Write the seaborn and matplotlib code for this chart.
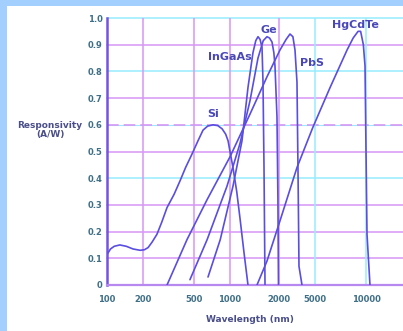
import numpy as np
import pandas as pd
import matplotlib
matplotlib.use("Agg")
import matplotlib.pyplot as plt
from matplotlib.patches import Rectangle
import seaborn as sns

# ---- data (wavelength in nm, responsivity in A/W) ----
si_wl = [102, 107, 115, 128, 145, 165, 189, 205, 219, 235, 257, 280, 308, 350, 389, 430, 482,
         540, 595, 650, 721, 790, 859, 920, 964, 1000, 1043, 1100, 1152, 1220, 1290]
si_r = [0.12, 0.135, 0.145, 0.15, 0.145, 0.135, 0.13, 0.132, 0.14, 0.16, 0.19, 0.235, 0.29, 0.34, 0.39, 0.44, 0.49,
        0.54, 0.58, 0.595, 0.60, 0.597, 0.585, 0.565, 0.54, 0.50, 0.44, 0.35, 0.25, 0.12, 0.0]

ingaas_wl = [655, 829, 1043, 1185, 1290, 1384, 1440, 1486, 1530, 1573, 1595, 1618, 1641]
ingaas_r = [0.03, 0.17, 0.37, 0.54, 0.74, 0.87, 0.915, 0.93, 0.92, 0.89, 0.76, 0.44, 0.0]

ge_wl = [465, 644, 944, 1152, 1327, 1486, 1600, 1688, 1750, 1812, 1860, 1890, 1944, 1970, 1985]
ge_r = [0.02, 0.17, 0.37, 0.53, 0.69, 0.85, 0.915, 0.93, 0.925, 0.91, 0.87, 0.82, 0.63, 0.32, 0.0]

pbs_wl = [308, 441, 644, 1000, 1327, 1688, 2050, 2400, 2647, 2850, 3006, 3162, 3243, 3327, 3593]
pbs_r = [0.0, 0.17, 0.32, 0.48, 0.64, 0.78, 0.88, 0.92, 0.94, 0.93, 0.88, 0.76, 0.44, 0.07, 0.0]

hgcdte_wl = [1465, 1688, 2050, 3162, 4731, 6142, 7730, 8400, 8982, 9300, 9650, 9870, 10140, 10560]
hgcdte_r = [0.0, 0.09, 0.24, 0.44, 0.59, 0.74, 0.88, 0.925, 0.95, 0.95, 0.90, 0.82, 0.19, 0.0]

curve_names = ["Si", "InGaAs", "Ge", "PbS", "HgCdTe"]
x_ticks = [100, 200, 500, 1000, 2000, 5000, 10000]
x_ticklabels = ["100", "200", "500", "1000", "2000", "5000", "10000"]
y_ticks = [0, 0.1, 0.2, 0.3, 0.4, 0.5, 0.6, 0.7, 0.8, 0.9, 1.0]
y_ticklabels = ["0", "0.1", "0.2", "0.3", "0.4", "0.5", "0.6", "0.7", "0.8", "0.9", "1.0"]

# ---- the chart's own (uneven) logarithmic wavelength axis ----
_logs = np.array([1.0, 2.0, 2.301, 2.699, 3.0, 3.301, 3.699, 4.0, 5.0])
_pos = np.array([-15.0, 107.0, 143.0, 194.0, 230.0, 279.0, 315.0, 366.0, 535.0])


def fwd(x):
    x = np.clip(np.asarray(x, dtype=float), 1e-3, None)
    return np.interp(np.log10(x), _logs, _pos)


def inv(p):
    return 10 ** np.interp(np.asarray(p, dtype=float), _pos, _logs)


sns.set_style("white")
plt.rcParams["font.family"] = ["DejaVu Sans"]

W, H = 403, 331
fig = plt.figure(figsize=(W / 100, H / 100), dpi=100, facecolor="#a2cffd")
fig.patches.append(Rectangle((7 / W, 0), 1, 325 / H, transform=fig.transFigure,
                             facecolor="white", edgecolor="none", zorder=-10))
ax = fig.add_axes([107 / W, 46 / H, 296 / W, 267 / H])
ax.set_zorder(1)
ax.set_facecolor("white")
ax.set_xscale("function", functions=(fwd, inv))
ax.set_xlim(100, 16560)
ax.set_ylim(0, 1.0)

# grid lines (alternating violet / cyan as in the reference)
violet = "#d796f4"
cyan = "#97ecff"
hcols = {0.1: violet, 0.2: violet, 0.3: violet, 0.4: cyan, 0.5: violet,
         0.7: violet, 0.8: cyan, 0.9: violet, 1.0: cyan}
for yv, c in hcols.items():
    ax.axhline(yv, color=c, lw=1.1, zorder=1, clip_on=False)
ax.axhline(0.6, color=cyan, lw=0.8, zorder=1)
ax.axhline(0.6, color=violet, lw=1.2, ls=(0, (7, 3)), zorder=1)
vcols = {200: violet, 500: violet, 1000: violet, 2000: violet, 5000: cyan, 10000: cyan}
for xv, c in vcols.items():
    ax.axvline(xv, color=c, lw=1.1, zorder=1)

# curves
curve_color = "#5a4ee0"
series = [(si_wl, si_r), (ingaas_wl, ingaas_r), (ge_wl, ge_r), (pbs_wl, pbs_r), (hgcdte_wl, hgcdte_r)]
for name, (wl, r) in zip(curve_names, series):
    df = pd.DataFrame({"wl": wl, "r": r})
    sns.lineplot(data=df, x="wl", y="r", ax=ax, sort=False, estimator=None,
                 color=curve_color, lw=1.2, zorder=3)

# curve labels
lab_color = "#4a48b8"
lab_pos = {"Si": (721, 0.64), "InGaAs": (1000, 0.855), "Ge": (1740, 0.955),
           "PbS": (4600, 0.83), "HgCdTe": (8700, 0.975)}
for name in curve_names:
    lx, ly = lab_pos[name]
    ax.text(lx, ly, name, color=lab_color, fontsize=8, fontweight="bold",
            ha="center", va="center", zorder=4)

# axes styling
ax.set_xticks(x_ticks)
ax.set_xticklabels(x_ticklabels)
ax.xaxis.set_minor_locator(matplotlib.ticker.NullLocator())
ax.set_yticks(y_ticks)
ax.set_yticklabels(y_ticklabels)
tick_color = "#3f6f86"
ax.tick_params(axis="both", length=0, labelsize=6, labelcolor=tick_color)
ax.tick_params(axis="x", pad=7)
ax.tick_params(axis="y", pad=3)
for t in ax.get_xticklabels() + ax.get_yticklabels():
    t.set_fontweight("bold")
ax.set_xlabel("")
ax.set_ylabel("")
for s in ["top", "right"]:
    ax.spines[s].set_visible(False)
ax.spines["left"].set_color("#7552e2")
ax.spines["left"].set_linewidth(1.8)
ax.spines["bottom"].set_color("#b688f0")
ax.spines["bottom"].set_linewidth(1.6)

fig.text(50 / W, 1 - 130 / H, "Responsivity\n(A/W)", ha="center", va="center",
         fontsize=6.5, fontweight="bold", color="#4a4f8a", linespacing=1.1)
fig.text(250 / W, 1 - 320 / H, "Wavelength (nm)", ha="center", va="center",
         fontsize=6.5, fontweight="bold", color="#4a4f8a")

fig.savefig("out.png", dpi=100, facecolor=fig.get_facecolor())
